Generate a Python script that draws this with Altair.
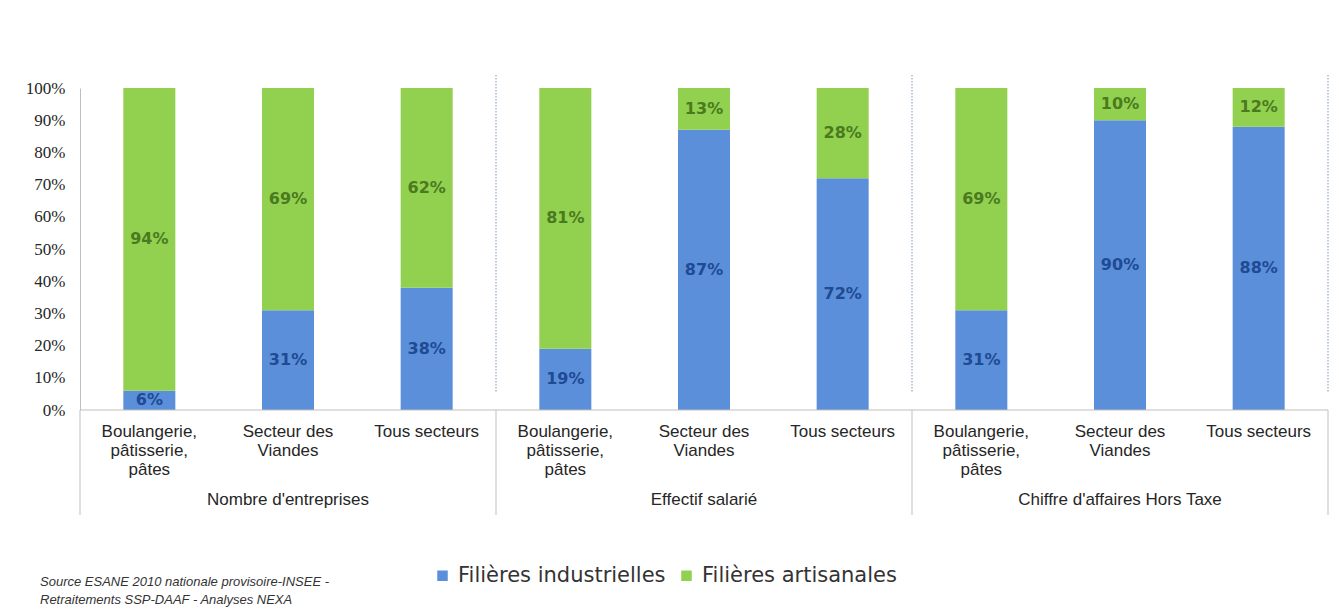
import altair as alt
import pandas as pd

groups = ["Nombre d'entreprises", "Effectif salarié", "Chiffre d'affaires Hors Taxe"]
sectors = ["Boulangerie,~pâtisserie,~pâtes", "Secteur des~Viandes", "Tous secteurs"]
series = ["Filières industrielles", "Filières artisanales"]
industrielles = [6, 31, 38, 19, 87, 72, 31, 90, 88]
artisanales = [94, 69, 62, 81, 13, 28, 69, 10, 12]
bar_colors = ["#5B8FD9", "#92D050"]
text_colors = ["#1F4A94", "#4A7A1E"]
y_ticks = list(range(0, 101, 10))
source_text = ["Source ESANE 2010  nationale provisoire-INSEE -", "Retraitements SSP-DAAF - Analyses NEXA"]

W, H = 1248, 322

rows = []
keys = []
cat_rows = []
for gi, g in enumerate(groups):
    for si, s in enumerate(sectors):
        i = gi * 3 + si
        k = f"{i}#{s}"
        keys.append(k)
        cat_rows.append(dict(key=k, sector=s))
        for j, vals in enumerate([industrielles, artisanales]):
            rows.append(dict(key=k, group=g, series=series[j], order=j,
                             value=vals[i], tc=text_colors[j]))
df = pd.DataFrame(rows)
cat_df = pd.DataFrame(cat_rows)

group_df = pd.DataFrame({"key": [keys[1], keys[4], keys[7]], "group": groups})
start_df = pd.DataFrame({"key": [keys[0], keys[3], keys[6]]})
end_df = pd.DataFrame({"key": [keys[8]]})
inner_df = pd.DataFrame({"key": [keys[3], keys[6]]})

xscale = alt.Scale(domain=keys, paddingInner=0, paddingOuter=0)
yscale = alt.Scale(domain=[0, 100])


def X(band=0.5):
    return alt.X("key:N", scale=xscale, sort=keys, axis=None, bandPosition=band)


yaxis = alt.Axis(
    title=None, values=y_ticks, labelExpr="datum.value + '%'", grid=False,
    ticks=False, domainColor="#BFBFBF", labelFont="Liberation Serif",
    labelFontSize=17, labelColor="#262626", labelPadding=15, labelOverlap=False,
)

base = alt.Chart(df).transform_stack(
    stack="value", groupby=["key"], as_=["v0", "v1"],
    sort=[alt.SortField("order", order="ascending")],
).transform_calculate(mid="(datum.v0 + datum.v1) / 2", lbl="datum.value + '%'")

bars = base.mark_bar(size=52).encode(
    x=X(),
    y=alt.Y("v0:Q", scale=yscale, axis=yaxis),
    y2="v1:Q",
    color=alt.Color(
        "series:N",
        scale=alt.Scale(domain=series, range=bar_colors),
        legend=alt.Legend(
            title=None, orient="none", direction="horizontal",
            legendX=352, legendY=477, symbolType="square", symbolSize=110,
            symbolStrokeWidth=0, labelFont="DejaVu Sans", labelFontSize=21,
            labelColor="#333333", columnPadding=10, labelOffset=5,
            labelLimit=300,
        ),
    ),
)

labels = base.mark_text(font="DejaVu Sans", fontSize=16, fontWeight="bold").encode(
    x=X(),
    y=alt.Y("mid:Q", scale=yscale, axis=yaxis),
    text="lbl:N",
    color=alt.Color("tc:N", scale=None),
)

baseline_rule = alt.Chart(end_df).mark_rule(color="#BFBFBF", strokeWidth=1).encode(
    x=alt.value(0), x2=alt.value(W), y=alt.value(H))

dotted = alt.Chart(inner_df).mark_rule(
    color="#8EA9C8", strokeDash=[1.5, 1.5], strokeWidth=1.2
).encode(x=X(0), y=alt.value(-13), y2=alt.value(305))

dotted_end = alt.Chart(end_df).mark_rule(
    color="#8EA9C8", strokeDash=[1.5, 1.5], strokeWidth=1.2
).encode(x=X(1), y=alt.value(-13), y2=alt.value(305))

solid = alt.Chart(start_df).mark_rule(color="#BFBFBF", strokeWidth=1).encode(
    x=X(0), y=alt.value(H), y2=alt.value(427))

solid_end = alt.Chart(end_df).mark_rule(color="#BFBFBF", strokeWidth=1).encode(
    x=X(1), y=alt.value(H), y2=alt.value(427))

cat_labels = alt.Chart(cat_df).mark_text(
    font="Liberation Sans", fontSize=17, color="#262626", baseline="top",
    lineBreak="~", lineHeight=19,
).encode(x=X(), y=alt.value(H + 14), text="sector:N")

group_labels = alt.Chart(group_df).mark_text(
    font="Liberation Sans", fontSize=17, color="#262626", baseline="middle"
).encode(x=X(), y=alt.value(412), text="group:N")

source = alt.Chart(pd.DataFrame({"t": [source_text]})).mark_text(
    font="Liberation Sans", fontSize=13, fontStyle="italic", color="#333333",
    align="left", baseline="middle", lineHeight=18,
).encode(x=alt.value(-40), y=alt.value(494), text="t")

chart = alt.layer(
    bars, labels, baseline_rule, dotted, dotted_end, solid, solid_end,
    cat_labels, group_labels, source
).properties(
    width=W, height=H,
    background="white",
    autosize=alt.AutoSizeParams(type="none"),
    padding={"left": 72, "top": 80, "right": 3, "bottom": 200},
).configure_view(
    strokeWidth=0, stroke="transparent"
)

chart.save("out.html", embed_options={"renderer": "svg", "actions": False})
